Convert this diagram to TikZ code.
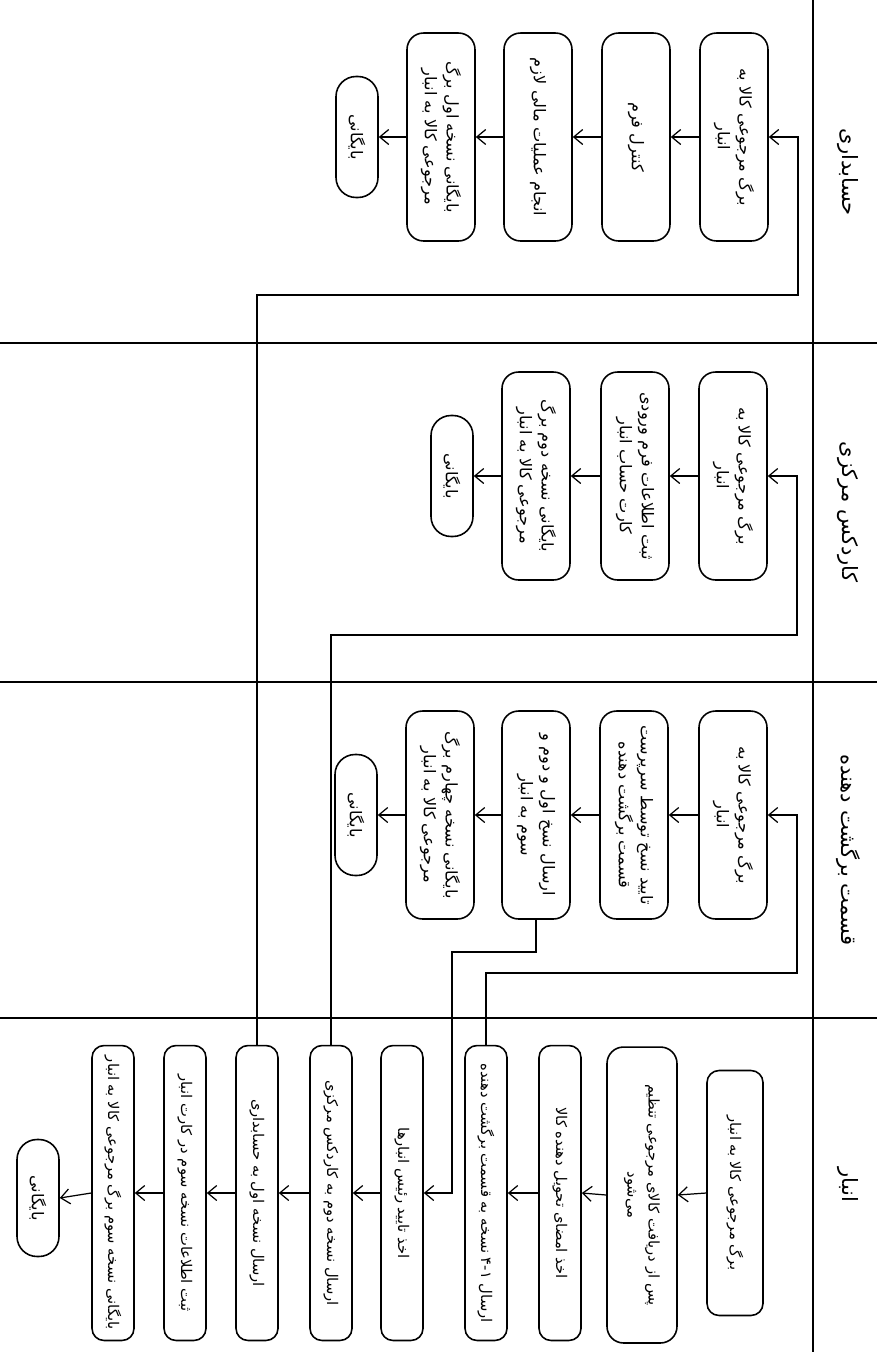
\documentclass[tikz,border=0pt]{standalone}
\usepackage{fontspec}
\usetikzlibrary{arrows.meta}
\newfontfamily\arabicfont[Script=Arabic]{DejaVu Sans}
\TeXXeTstate=1
\newcommand{\fatxt}[1]{\beginR #1\endR}
\tikzset{
  lane/.style={line width=1.2pt},
  lanehead/.style={rotate=-90,font=\arabicfont\fontsize{12}{14}\selectfont},
  stepbox/.style={draw,line width=0.9pt,rounded corners=3.3mm,rotate=-90,align=center,
    inner sep=1pt,minimum width=4.16cm,minimum height=1.36cm,
    font=\arabicfont\fontsize{9.2}{12.5}\selectfont},
  slimbox/.style={stepbox,rounded corners=2.4mm,minimum width=5.9cm,minimum height=0.84cm,
    font=\arabicfont\fontsize{8.4}{12}\selectfont},
  archive/.style={stepbox,rounded corners=0.4cm,minimum width=2.42cm,minimum height=0.84cm},
  flow/.style={->,line width=0.7pt}
}

\begin{document}
\begin{tikzpicture}[x=0.02cm,y=-0.02cm,>={Straight Barb[length=1.8mm,width=3mm]}]
  \useasboundingbox (0,0) rectangle (877,1352);
  % lanes
  \draw[lane] (813,0) -- (813,1352);
  \draw[lane] (0,343) -- (877,343);
  \draw[lane] (0,682) -- (877,682);
  \draw[lane] (0,1018) -- (877,1018);
  \node[lanehead] (hdacc) at (848,172) {\fatxt{حسابداری}};
  \node[lanehead] (hdkrd) at (848,512) {\fatxt{کاردکس مرکزی}};
  \node[lanehead] (hdret) at (848,850) {\fatxt{قسمت برگشت دهنده}};
  \node[lanehead] (hdwh) at (848,1185) {\fatxt{انبار}};

  % accounting
  \node[stepbox] (acc1) at (734,137) {\fatxt{برگ مرجوعی کالا به}\\\fatxt{انبار}};
  \node[stepbox] (acc2) at (636,137) {\fatxt{کنترل فرم}};
  \node[stepbox] (acc3) at (538,137) {\fatxt{انجام عملیات مالی لازم}};
  \node[stepbox] (acc4) at (441,137) {\fatxt{بایگانی نسخه اول برگ}\\\fatxt{مرجوعی کالا به انبار}};
  \node[archive] (acc5) at (357,137) {\fatxt{بایگانی}};

  % central kardex
  \node[stepbox] (krd1) at (733,476) {\fatxt{برگ مرجوعی کالا به}\\\fatxt{انبار}};
  \node[stepbox] (krd2) at (635,476) {\fatxt{ثبت اطلاعات فرم ورودی}\\\fatxt{کارت حساب انبار}};
  \node[stepbox] (krd3) at (536,476) {\fatxt{بایگانی نسخه دوم برگ}\\\fatxt{مرجوعی کالا به انبار}};
  \node[archive] (krd4) at (452,476) {\fatxt{بایگانی}};

  % returning section
  \node[stepbox] (ret1) at (733,815) {\fatxt{برگ مرجوعی کالا به}\\\fatxt{انبار}};
  \node[stepbox] (ret2) at (634,815) {\fatxt{تایید نسخ توسط سرپرست}\\\fatxt{قسمت برگشت دهنده}};
  \node[stepbox] (ret3) at (536,815) {\fatxt{ارسال نسخ اول و دوم و}\\\fatxt{سوم به انبار}};
  \node[stepbox] (ret4) at (440,815) {\fatxt{بایگانی نسخه چهارم برگ}\\\fatxt{مرجوعی کالا به انبار}};
  \node[archive] (ret5) at (356,815) {\fatxt{بایگانی}};

  % warehouse
  \node[slimbox,minimum width=4.9cm,minimum height=1.12cm] (wh1) at (735,1193) {\fatxt{برگ مرجوعی کالا به انبار}};
  \node[slimbox,minimum width=5.92cm,minimum height=1.4cm,rounded corners=3.3mm] (wh2) at (642,1195) {\fatxt{پس از دریافت کالای مرجوعی تنظیم}\\\fatxt{می‌شود}};
  \node[slimbox] (wh3) at (560,1193) {\fatxt{اخذ امضای تحویل دهنده کالا}};
  \node[slimbox] (wh4) at (486,1193) {\fatxt{ارسال ۴-۱ نسخه به قسمت برگشت دهنده}};
  \node[slimbox] (wh5) at (402,1193) {\fatxt{اخذ تایید رئیس انبارها}};
  \node[slimbox] (wh6) at (331,1193) {\fatxt{ارسال نسخه دوم به کاردکس مرکزی}};
  \node[slimbox] (wh7) at (257,1193) {\fatxt{ارسال نسخه اول به حسابداری}};
  \node[slimbox] (wh8) at (185,1193) {\fatxt{ثبت اطلاعات نسخه سوم در کارت انبار}};
  \node[slimbox] (wh9) at (113,1193) {\fatxt{بایگانی نسخه سوم برگ مرجوعی کالا به انبار}};
  \node[archive,minimum width=2.34cm] (wh10) at (38,1198) {\fatxt{بایگانی}};

  % flow inside lanes
  \draw[flow] (acc1.south) -- (acc2.north);
  \draw[flow] (acc2.south) -- (acc3.north);
  \draw[flow] (acc3.south) -- (acc4.north);
  \draw[flow] (acc4.south) -- (acc5.north);
  \draw[flow] (krd1.south) -- (krd2.north);
  \draw[flow] (krd2.south) -- (krd3.north);
  \draw[flow] (krd3.south) -- (krd4.north);
  \draw[flow] (ret1.south) -- (ret2.north);
  \draw[flow] (ret2.south) -- (ret3.north);
  \draw[flow] (ret3.south) -- (ret4.north);
  \draw[flow] (ret4.south) -- (ret5.north);
  \draw[flow] (wh1.south) -- (wh2.north);
  \draw[flow] (wh2.south) -- (wh3.north);
  \draw[flow] (wh3.south) -- (wh4.north);
  \draw[flow] (wh5.south) -- (wh6.north);
  \draw[flow] (wh6.south) -- (wh7.north);
  \draw[flow] (wh7.south) -- (wh8.north);
  \draw[flow] (wh8.south) -- (wh9.north);
  \draw[flow] (wh9.south) -- (wh10.north);

  % between lanes
  \coordinate (accbend) at (798,295);
  \coordinate (krdbend) at (797,635);
  \coordinate (retbend) at (797,973);
  \coordinate (backbend) at (452,952);
  \draw[flow] (wh7.west) |- (accbend) |- (acc1.north);
  \draw[flow] (wh6.west) |- (krdbend) |- (krd1.north);
  \draw[flow] (wh4.west) |- (retbend) |- (ret1.north);
  \draw[flow] (ret3.east) |- (backbend) |- (wh5.north);
\end{tikzpicture}
\end{document}
